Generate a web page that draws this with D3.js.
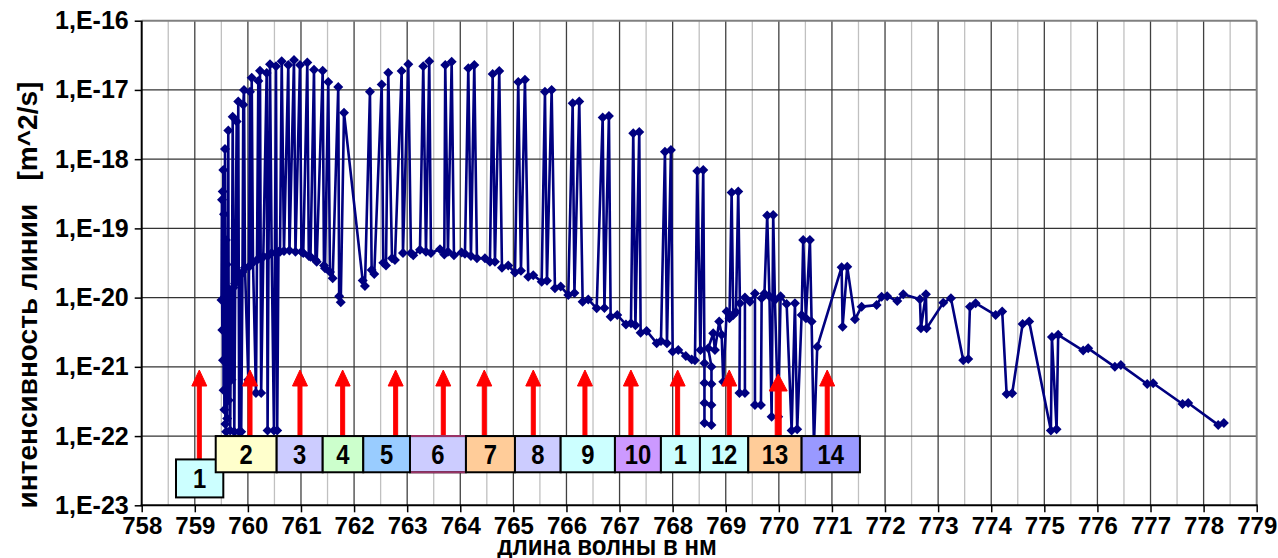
<!DOCTYPE html>
<html lang="ru">
<head>
<meta charset="utf-8">
<title>Интенсивность линий</title>
<script src="https://cdn.jsdelivr.net/npm/d3@7/dist/d3.min.js"></script>
<style>
  body { margin: 0; background: #fff; }
  text { font-family: "Liberation Sans", Arial, sans-serif; font-weight: bold; fill: #000; }
  .axis text { font-size: 24px; }
  .axisY text { font-size: 25px; }
  .axis line { stroke: #000; stroke-width: 1.5; }
  .axis path { display: none; }
  .gridMajor { stroke: #404040; stroke-width: 1.3; }
  .gridMinor { stroke: #c0c0c0; stroke-width: 1.3; }
  .gridY { stroke: #333; stroke-width: 1.3; }
  .series { fill: none; stroke: #000080; stroke-width: 2.6; stroke-linejoin: round; }
  .pt { fill: #000080; }
  .arrow { fill: #ff0000; stroke: #ff0000; }
  .box { stroke: #000; stroke-width: 2; }
  .boxLabel { font-size: 28px; }
</style>
</head>
<body>
<div class="chart"></div>
<script>

// line list (wavelength, nm) and line intensity, m^2/s
var wavelength = [
  759.503, 759.512, 759.518, 759.525, 759.531, 759.537, 759.542, 759.550, 759.557, 759.569,
  759.576, 759.584, 759.591, 759.599, 759.610, 759.631, 759.640, 759.653, 759.667, 759.682,
  759.693, 759.714, 759.729, 759.744, 759.761, 759.789, 759.802, 759.819, 759.836, 759.855,
  759.874, 759.898, 759.913, 759.927, 759.945, 760.008, 760.021, 760.040, 760.058, 760.072,
  760.096, 760.152, 760.171, 760.196, 760.209, 760.228, 760.250, 760.290, 760.354, 760.371,
  760.388, 760.416, 760.448, 760.491, 760.529, 760.552, 760.576, 760.605, 760.637, 760.680,
  760.761, 760.783, 760.868, 760.896, 760.981, 761.009, 761.043, 761.119, 761.147, 761.179,
  761.245, 761.273, 761.296, 761.409, 761.433, 761.452, 761.514, 761.546, 761.597, 761.702,
  761.719, 761.749, 761.810,
  762.162, 762.205, 762.299, 762.331, 762.380, 762.520, 762.550, 762.601, 762.644, 762.714,
  762.770, 762.896, 762.921, 763.021, 763.071, 763.115, 763.241, 763.303, 763.354, 763.416,
  763.448, 763.618, 763.699, 763.717, 763.768, 763.838, 763.881, 764.026, 764.088, 764.151,
  764.201, 764.264, 764.314, 764.465, 764.559, 764.610, 764.653, 764.734, 764.785, 764.904,
  765.030, 765.092, 765.143, 765.218, 765.280, 765.375, 765.533, 765.595, 765.633, 765.721,
  765.783, 765.891, 766.034, 766.117, 766.150, 766.241, 766.305, 766.410, 766.569, 766.682,
  766.715, 766.800, 766.832, 766.957, 767.120, 767.215, 767.258, 767.299, 767.371, 767.397,
  767.510, 767.699, 767.780, 767.855, 767.893, 767.968, 768.000, 768.105, 768.248, 768.358,
  768.420, 768.463, 768.523, 768.576,
  768.599, 768.599, 768.599, 768.599, 768.731, 768.731, 768.731, 768.731, 768.670, 768.764,
  768.796, 768.877, 768.923, 768.953, 769.017, 769.070, 769.111, 769.141, 769.192, 769.235,
  769.267, 769.258, 769.361, 769.361, 769.456, 769.550, 769.550, 769.663, 769.676, 769.729,
  769.781, 769.823, 769.864, 769.894, 769.926, 769.988, 770.033, 770.147, 770.241, 770.303,
  770.346, 770.429, 770.459, 770.510, 770.585, 770.617, 770.661, 770.723,
  771.182, 771.201, 771.288, 771.433, 771.559, 771.842, 771.936, 772.041, 772.230, 772.343,
  772.657, 772.676, 772.770, 772.783, 773.096, 773.241, 773.473, 773.567, 773.599, 773.706,
  774.083, 774.207, 774.290, 774.395, 774.591, 774.715, 775.124, 775.143, 775.231, 775.261,
  775.732, 775.826, 776.329, 776.442, 776.937, 777.050, 777.604, 777.710, 778.275, 778.382
];

var intensity = [
  9.2e-21, 2.6e-19, 3.4e-21, 3.4e-19, 1.25e-21, 7.0e-19, 4.6e-22, 1.6e-19, 2.4e-22, 1.4e-18,
  1.5e-22, 6.8e-20, 1.15e-22, 3.0e-20, 1.8e-22, 2.6e-18, 3.3e-22, 1.3e-20, 1.2e-22, 9.2e-21,
  6.5e-22, 4.1e-18, 1.4e-20, 1.15e-22, 1.6e-20, 3.5e-18, 1.8e-20, 6.8e-18, 1.15e-22, 2.1e-20,
  1.15e-22, 2.35e-20, 6.1e-18, 1.0e-17, 2.7e-20, 6.5e-22, 2.8e-20, 9.4e-18, 3.0e-20, 1.5e-17,
  3.3e-20, 4.2e-22, 3.5e-20, 1.35e-17, 3.7e-20, 1.9e-17, 4.2e-22, 3.9e-20, 1.75e-17, 1.2e-22,
  4.1e-20, 2.35e-17, 4.4e-20, 1.2e-22, 2.2e-17, 1.2e-22, 4.6e-20, 4.6e-20, 2.6e-17, 4.7e-20,
  2.3e-17, 4.8e-20, 2.7e-17, 4.6e-20, 2.3e-17, 4.6e-20, 4.4e-20, 2.5e-17, 4.0e-20, 3.9e-20,
  1.95e-17, 3.5e-20, 3.3e-20, 1.9e-17, 2.9e-20, 2.65e-20, 1.3e-17, 2.35e-20, 1.9e-20, 1.1e-17,
  1.05e-20, 8.6e-21, 4.7e-18,
  1.76e-20, 1.47e-20, 9.4e-18, 2.5e-20, 2.2e-20, 1.2e-17, 3.2e-20, 2.9e-20, 1.77e-17, 3.7e-20,
  3.5e-20, 1.88e-17, 4.4e-20, 2.35e-17, 4.4e-20, 4.1e-20, 4.9e-20, 2.2e-17, 4.6e-20, 2.6e-17,
  4.4e-20, 5.0e-20, 4.2e-20, 2.3e-17, 4.6e-20, 2.55e-17, 4.1e-20, 4.5e-20, 4.3e-20, 2.05e-17,
  4.0e-20, 2.3e-17, 3.7e-20, 3.7e-20, 3.3e-20, 1.7e-17, 3.3e-20, 1.88e-17, 2.7e-20, 2.9e-20,
  2.3e-20, 1.3e-17, 2.45e-20, 1.4e-17, 2.0e-20, 2.1e-20, 1.7e-20, 9.4e-18, 1.75e-20, 1.0e-17,
  1.36e-20, 1.45e-20, 1.09e-20, 6.4e-18, 1.17e-20, 6.8e-18, 8.7e-21, 9.4e-21, 7.0e-21, 4.0e-18,
  7.1e-21, 4.2e-18, 5.3e-21, 5.6e-21, 4.1e-21, 4.25e-21, 2.36e-18, 4.0e-21, 2.46e-18, 3.1e-21,
  3.3e-21, 2.2e-21, 2.36e-21, 1.28e-18, 2.2e-21, 1.36e-18, 1.66e-21, 1.75e-21, 1.44e-21, 1.28e-21,
  1.25e-21, 6.75e-19, 1.75e-21, 7.0e-19,
  1.13e-21, 5.85e-22, 3.0e-22, 1.55e-22, 1.45e-22, 2.8e-22, 5.66e-22, 1.0e-21, 1.85e-21, 3.05e-21,
  1.75e-21, 4.5e-21, 2.9e-21, 6.1e-22, 6.3e-21, 5.05e-21, 3.3e-19, 5.6e-21, 6.2e-21, 3.4e-19,
  8.3e-21, 4.2e-22, 4.2e-22, 1.0e-20, 8.7e-21, 1.15e-20, 2.8e-22, 2.8e-22, 9.8e-21, 1.15e-20,
  1.53e-19, 1.05e-20, 1.9e-22, 1.56e-19, 9.2e-21, 1.9e-22, 1.05e-20, 8.1e-21, 1.2e-22, 8.3e-21,
  1.25e-22, 5.6e-21, 6.8e-20, 5.05e-21, 6.8e-20, 4.5e-21, 7.4e-23, 1.95e-21,
  2.75e-20, 3.8e-21, 2.8e-20, 4.85e-21, 7.4e-21, 7.8e-21, 1.03e-20, 1.05e-20, 8.9e-21, 1.12e-20,
  9.45e-21, 3.6e-21, 1.12e-20, 3.6e-21, 8.4e-21, 9.8e-21, 1.25e-21, 1.3e-21, 7.4e-21, 8.3e-21,
  5.6e-21, 6.3e-21, 4.05e-22, 4.15e-22, 4.15e-21, 4.5e-21, 1.2e-22, 2.7e-21, 1.25e-22, 2.9e-21,
  1.72e-21, 1.85e-21, 1.0e-21, 1.06e-21, 5.66e-22, 5.8e-22, 2.9e-22, 3.0e-22, 1.45e-22, 1.55e-22
];

var xTicks = [758, 759, 760, 761, 762, 763, 764, 765, 766, 767, 768,
              769, 770, 771, 772, 773, 774, 775, 776, 777, 778, 779];
var yTicks = [1e-23, 1e-22, 1e-21, 1e-20, 1e-19, 1e-18, 1e-17, 1e-16];
var yTickLabels = ["1,E-23", "1,E-22", "1,E-21", "1,E-20", "1,E-19", "1,E-18", "1,E-17", "1,E-16"];

// numbered bands and their arrows
var arrowNm = [759.085, 760.040, 760.981, 761.785, 762.783, 763.680, 764.452,
               765.375, 766.348, 767.214, 768.094, 769.066, 769.988, 770.911];
var boxLabels = ["1", "2", "3", "4", "5", "6", "7", "8", "9", "10", "1", "12", "13", "14"];
var boxFrom = [758.646, 759.394, 760.542, 761.409, 762.173, 763.053, 764.107,
               765.030, 765.891, 766.913, 767.779, 768.514, 769.424, 770.429];
var boxTo   = [759.537, 760.542, 761.409, 762.173, 763.053, 764.107, 765.030,
               765.891, 766.913, 767.779, 768.514, 769.424, 770.429, 771.527];
var boxColors = ["#ccffff", "#ffffcc", "#ccccff", "#ccffcc", "#99ccff", "#ccccff", "#ffcc99",
                 "#ccccff", "#ccffff", "#cc99ff", "#ccffff", "#ccffff", "#ffcc99", "#9999ff"];

var w = 1278, h = 558;
var pLeft = 141.7, pRight = 1256.7, pTop = 20.7, pBottom = 505.3;

var svg = d3.select("div.chart").append("svg")
  .attr("width", w).attr("height", h);

var x = d3.scaleLinear().domain([758, 779]).range([pLeft, pRight]);
var y = d3.scaleLog().domain([1e-23, 1e-16]).range([pBottom, pTop]);

// grid
var halfSteps = xTicks.slice(0, -1).map(function (d) { return d + 0.5; });
var grid = svg.append("g");
grid.selectAll(".gridMinor").data(halfSteps).enter().append("line")
  .attr("class", "gridMinor")
  .attr("x1", d => x(d)).attr("x2", d => x(d))
  .attr("y1", pTop).attr("y2", pBottom);
grid.selectAll(".gridMajor").data(xTicks.slice(1, -1)).enter().append("line")
  .attr("class", "gridMajor")
  .attr("x1", d => x(d)).attr("x2", d => x(d))
  .attr("y1", pTop).attr("y2", pBottom);
grid.selectAll(".gridY").data(yTicks.slice(1, -1)).enter().append("line")
  .attr("class", "gridY")
  .attr("x1", pLeft).attr("x2", pRight)
  .attr("y1", d => y(d)).attr("y2", d => y(d));

// frame: grey top and right, black axes
svg.append("line").attr("x1", pLeft).attr("x2", pRight).attr("y1", pTop).attr("y2", pTop)
  .attr("stroke", "#808080").attr("stroke-width", 2);
svg.append("line").attr("x1", pRight).attr("x2", pRight).attr("y1", pTop).attr("y2", pBottom)
  .attr("stroke", "#808080").attr("stroke-width", 2);

// series
var points = wavelength.map(function (d, i) { return { w: d, v: intensity[i] }; });
var line = d3.line().x(d => x(d.w)).y(d => y(d.v));

var plot = svg.append("g");
plot.append("path").datum(points).attr("class", "series").attr("d", line);
plot.selectAll(".pt").data(points).enter().append("path")
  .attr("class", "pt")
  .attr("d", d3.symbol(d3.symbolSquare, 50))
  .attr("transform", d => "translate(" + x(d.w) + "," + y(d.v) + ") rotate(45)");

// axes
svg.append("g").attr("class", "axis axisY")
  .attr("transform", "translate(" + pLeft + ",0)")
  .call(d3.axisLeft(y).tickValues(yTicks).tickSize(7).tickSizeOuter(0).tickPadding(6)
    .tickFormat((d, i) => yTickLabels[i]));
svg.append("g").attr("class", "axis")
  .attr("transform", "translate(0," + pBottom + ")")
  .call(d3.axisBottom(x).tickValues(xTicks).tickSize(7).tickSizeOuter(0).tickPadding(5)
    .tickFormat(d3.format("d")));
svg.append("line").attr("x1", pLeft).attr("x2", pLeft).attr("y1", pTop).attr("y2", pBottom + 1)
  .attr("stroke", "#000").attr("stroke-width", 2);
svg.append("line").attr("x1", pLeft - 1).attr("x2", pRight + 1).attr("y1", pBottom).attr("y2", pBottom)
  .attr("stroke", "#000").attr("stroke-width", 2);

// red arrows
var tipV = 9e-22;
var arrows = svg.append("g");
arrowNm.forEach(function (nm, i) {
  var base = i === 0 ? y(4.6e-23) : y(1e-22);
  var big = i === 12;
  var hw = big ? 9 : 7.5, hh = big ? 17 : 16, sw = big ? 6 : 4;
  var cx = x(nm), tip = y(tipV) + (big ? 4 : 0);
  arrows.append("rect").attr("class", "arrow")
    .attr("x", cx - sw / 2).attr("y", tip + hh - 1)
    .attr("width", sw).attr("height", base - tip - hh + 1).attr("stroke", "none");
  arrows.append("path").attr("class", "arrow")
    .attr("d", "M" + cx + "," + tip + "L" + (cx + hw) + "," + (tip + hh) + "L" + (cx - hw) + "," + (tip + hh) + "Z");
});

// numbered boxes
var boxes = svg.append("g");
boxLabels.forEach(function (lab, i) {
  var y0 = i === 0 ? y(4.6e-23) : y(1e-22);
  var y1 = i === 0 ? y(1.3e-23) : y(3e-23);
  var x0 = x(boxFrom[i]), x1 = x(boxTo[i]);
  boxes.append("rect").attr("class", "box")
    .attr("x", x0).attr("y", y0).attr("width", x1 - x0).attr("height", y1 - y0)
    .attr("fill", boxColors[i])
    .attr("stroke", i === 13 ? "#444" : "#000");
  boxes.append("text").attr("class", "boxLabel")
    .attr("text-anchor", "middle")
    .attr("transform", "translate(" + (x0 + x1) / 2 + "," + ((y0 + y1) / 2 + 10) + ") scale(0.85,1)")
    .text(lab);
});
// box 6 has a purple rim on top and bottom
[y(1e-22), y(3e-23)].forEach(function (yy) {
  boxes.append("line").attr("x1", x(boxFrom[5]) + 1).attr("x2", x(boxTo[5]) - 1)
    .attr("y1", yy).attr("y2", yy).attr("stroke", "#993366").attr("stroke-width", 2);
});

// titles
svg.append("text")
  .attr("transform", "translate(37,295) rotate(-90)")
  .attr("text-anchor", "middle")
  .style("font-size", "28px")
  .style("white-space", "pre")
  .text("интенсивность линии   [m^2/s]");

svg.append("text")
  .attr("transform", "translate(607,555) scale(0.86,1)")
  .attr("text-anchor", "middle")
  .style("font-size", "28px")
  .text("длина волны в нм");

</script>
</body>
</html>
